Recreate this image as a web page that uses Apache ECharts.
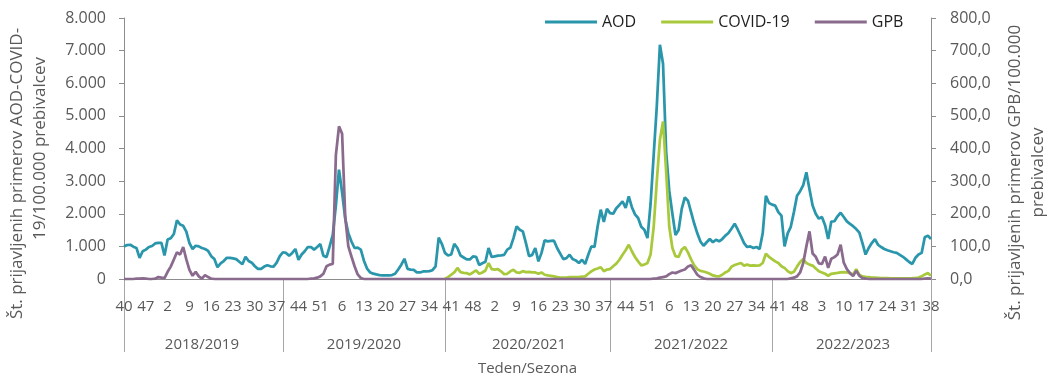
<!DOCTYPE html>
<html>
<head>
<meta charset="utf-8">
<script src="https://cdn.jsdelivr.net/npm/echarts@6/dist/echarts.min.js"></script>
<style>
  html, body { margin: 0; padding: 0; background: #ffffff; }
  #chart { width: 1047px; height: 374px; }
</style>
</head>
<body>
<div id="chart"></div>
<script>
// Seasons shown on the lower axis level
const seasons = ['2018/2019', '2019/2020', '2020/2021', '2021/2022', '2022/2023'];

// ISO weeks of each season (week 40 to week 39; 2020 has a week 53; last season ends at week 38)
function span(a, b) { const r = []; for (let w = a; w <= b; w++) r.push(w); return r; }
const seasonWeeks = [
  span(40, 52).concat(span(1, 39)),
  span(40, 52).concat(span(1, 39)),
  span(40, 53).concat(span(1, 39)),
  span(40, 52).concat(span(1, 39)),
  span(40, 52).concat(span(1, 38))
];

// AOD – weekly cases per 100.000 inhabitants (left axis)
const aod1819 = [1000,1040,1050,990,950,650,850,900,980,1010,
  1090,1110,1110,720,1210,1250,1380,1800,1670,1630,
  1450,1100,920,1020,1000,950,920,860,700,610,
  360,480,550,650,650,630,610,530,450,680,
  550,500,390,310,310,380,420,390,380,500,
  700,820];
const aod1920 = [800,710,800,920,590,750,850,980,980,900,
  980,1070,710,670,1000,1350,2250,3350,2650,1850,
  1400,1150,950,960,900,560,320,200,165,140,
  120,110,110,110,120,160,290,440,620,310,
  290,280,200,200,230,230,240,270,390,1270,
  1080,800];
const aod2021 = [720,750,1080,950,720,660,600,600,690,680,
  430,480,530,950,675,695,715,725,740,900,
  960,1255,1610,1510,1460,1100,700,740,950,540,
  800,1185,1155,1165,1175,950,780,610,640,745,
  610,570,490,590,460,745,1000,980,1610,2125,
  1750,2150,2020];
const aod2122 = [2000,2170,2270,2380,2180,2530,2200,1980,1870,1600,
  1510,1255,2300,3800,5300,7180,6600,3900,2700,2000,
  1350,1500,2150,2500,2400,2050,1700,1400,1150,1020,
  1125,1225,1125,1205,1155,1225,1330,1410,1550,1695,
  1510,1310,1100,980,1000,950,980,920,1410,2550,
  2330,2280];
const aod2223 = [2250,2050,1940,1000,1400,1600,2050,2550,2690,2880,
  3270,2750,2250,2000,1850,1900,1650,1225,1760,1770,
  1920,2030,1900,1765,1690,1620,1530,1420,1100,750,
  950,1100,1220,1050,980,920,880,850,820,800,
  740,680,600,520,460,650,750,800,1280,1330,
  1225];

// COVID-19 – weekly cases per 100.000 inhabitants (left axis), reported from week 39/2020
const covid1819 = new Array(52).fill(null);
const covid1920 = new Array(51).fill(null).concat([0]);
const covid2021 = [60,130,200,340,210,190,180,140,200,265,
  160,200,260,490,305,290,305,235,150,160,
  235,280,200,190,240,210,220,205,200,160,
  200,130,110,95,80,60,40,40,45,60,
  60,60,60,70,80,160,235,290,320,360,
  240,290,305];
const covid2122 = [390,470,590,745,880,1050,850,675,540,420,
  440,490,750,1600,3000,4270,4830,3300,1600,950,
  700,675,900,980,815,600,420,300,250,230,
  200,160,110,90,80,130,200,250,380,430,
  460,490,410,440,410,420,410,420,490,775,
  680,610];
const covid2223 = [540,490,390,340,240,180,220,380,520,610,
  490,440,410,320,240,200,160,100,160,175,
  185,200,210,200,180,140,300,130,80,65,
  55,45,40,35,30,28,25,20,20,20,
  20,20,20,22,25,30,45,80,140,180,
  100];

// GPB – weekly cases per 100.000 inhabitants (right axis)
const gpb1819 = [0,0,0,0,1,1,2,1,0,0,
  1,6,4,3,22,38,60,82,75,98,
  60,28,10,22,8,1,12,6,1,0,
  0,0,0,0,0,0,0,0,0,0,
  0,0,0,0,0,0,0,0,0,0,
  0,0];
const gpb1920 = [0,0,0,0,0,0,0,0,1,2,
  4,8,16,39,44,46,380,468,445,190,
  100,69,39,14,3,0,0,0,0,0,
  0,0,0,0,0,0,0,0,0,0,
  0,0,0,0,0,0,0,0,0,0,
  0,0];
const gpb2021 = new Array(53).fill(0);
const gpb2122 = [0,0,0,0,0,0,0,0,0,0,
  0,0,0,1,2,4,6,8,15,20,
  18,22,26,29,38,42,28,13,6,2,
  0,0,0,0,0,0,0,0,0,0,
  0,0,0,0,0,0,0,0,0,0,
  0,0];
const gpb2223 = [0,0,0,0,0,2,4,8,20,49,
  100,146,78,68,48,46,69,34,62,67,
  75,105,50,30,18,9,25,10,3,1,
  0,0,0,0,0,0,0,0,0,0,
  0,0,0,0,0,0,0,0,1,2,
  1];

// Left axis tick labels (thousands separated by a dot) and right axis (decimal comma)
const leftTicks = ['0','1.000','2.000','3.000','4.000','5.000','6.000','7.000','8.000'];
const rightTicks = ['0,0','100,0','200,0','300,0','400,0','500,0','600,0','700,0','800,0'];

// ---- build the axis categories ----
const weekLabels = [];
const seasonOf = [];
const seasonFirst = [];
const seasonLast = [];
seasonWeeks.forEach((ws, s) => {
  seasonFirst.push(weekLabels.length);
  ws.forEach(w => { weekLabels.push(String(w)); seasonOf.push(seasons[s]); });
  seasonLast.push(weekLabels.length - 1);
});
const keys = weekLabels.map((w, i) => String(i));
// divider lines at the start of the axis and after the last week of every season
const dividerIdx = [0].concat(seasonLast);
const seasonLabelIdx = seasonFirst.map((f, s) => Math.floor((f + seasonLast[s]) / 2));

const aod = [].concat(aod1819, aod1920, aod2021, aod2122, aod2223);
const covid = [].concat(covid1819, covid1920, covid2021, covid2122, covid2223);
const gpb = [].concat(gpb1819, gpb1920, gpb2021, gpb2122, gpb2223);

const FONT = "'Open Sans', 'Noto Sans', sans-serif";
const GREY_TEXT = '#595959';
const AXIS_GREY = '#8c8c8c';

// text style of the axis titles; the extra right padding moves a line towards the axis bottom
function titleLine(shift) {
  return { fontSize: 17, lineHeight: 23, color: GREY_TEXT, fontFamily: FONT, padding: [0, shift, 0, 0] };
}

const chart = echarts.init(document.getElementById('chart'), null, { renderer: 'canvas' });
chart.setOption({
  animation: false,
  backgroundColor: '#ffffff',
  textStyle: { fontFamily: FONT },
  grid: { left: 124, right: 116, top: 18, bottom: 95, containLabel: false, outerBoundsMode: 'none' },
  legend: {
    top: 9, left: 540,
    icon: 'rect', itemWidth: 52, itemHeight: 3, itemGap: 25,
    textStyle: { fontSize: 16, color: '#1f1f1f', fontFamily: FONT },
    data: ['AOD', 'COVID-19', 'GPB']
  },
  xAxis: [
    {
      type: 'category', data: keys, boundaryGap: false,
      axisLine: { show: true, lineStyle: { color: AXIS_GREY, width: 1 } },
      axisTick: { show: false },
      splitLine: { show: false },
      axisLabel: {
        interval: 6, margin: 20, fontSize: 15, color: GREY_TEXT, fontFamily: FONT,
        formatter: v => weekLabels[+v]
      }
    },
    {
      type: 'category', data: keys, boundaryGap: false, position: 'bottom',
      axisLine: { show: false },
      axisTick: {
        show: true, length: 73,
        interval: i => dividerIdx.indexOf(i) >= 0,
        lineStyle: { color: '#a6a6a6', width: 1 }
      },
      splitLine: { show: false },
      axisLabel: {
        margin: 58, fontSize: 15, color: GREY_TEXT, fontFamily: FONT,
        interval: i => seasonLabelIdx.indexOf(i) >= 0,
        formatter: v => seasonOf[+v]
      },
      name: 'Teden/Sezona', nameLocation: 'middle', nameGap: 82,
      nameTextStyle: { fontSize: 15, color: GREY_TEXT, fontFamily: FONT }
    }
  ],
  yAxis: [
    {
      type: 'value', position: 'left', min: 0, max: 8000, interval: 1000,
      name: '{a|Št. prijavljenih primerov AOD-COVID-}\n{b|19/100.000 prebivalcev}',
      nameLocation: 'middle', nameGap: 72,
      nameTextStyle: {
        fontSize: 17, color: GREY_TEXT, lineHeight: 23, fontFamily: FONT,
        rich: { a: titleLine(50), b: titleLine(0) }
      },
      axisLine: { show: true, lineStyle: { color: AXIS_GREY } },
      axisTick: { show: true, length: 5, lineStyle: { color: AXIS_GREY } },
      splitLine: { show: false },
      axisLabel: {
        margin: 18, fontSize: 16, color: GREY_TEXT, fontFamily: FONT,
        formatter: v => leftTicks[Math.round(v / 1000)]
      }
    },
    {
      type: 'value', position: 'right', min: 0, max: 800, interval: 100,
      name: '{a|Št. prijavljenih primerov GPB/100.000}\n{b|prebivalcev}',
      nameLocation: 'middle', nameGap: 73,
      nameTextStyle: {
        fontSize: 17, color: GREY_TEXT, lineHeight: 23, fontFamily: FONT,
        rich: { a: titleLine(48), b: titleLine(48) }
      },
      axisLine: { show: true, lineStyle: { color: AXIS_GREY } },
      axisTick: { show: true, length: 5, lineStyle: { color: AXIS_GREY } },
      splitLine: { show: false },
      axisLabel: {
        margin: 19, fontSize: 16, color: GREY_TEXT, fontFamily: FONT,
        formatter: v => rightTicks[Math.round(v / 100)]
      }
    }
  ],
  series: [
    {
      name: 'AOD', type: 'line', xAxisIndex: 0, yAxisIndex: 0, data: aod,
      symbol: 'none', lineStyle: { width: 2.75, color: '#2996ac' }, itemStyle: { color: '#2996ac' }
    },
    {
      name: 'COVID-19', type: 'line', xAxisIndex: 0, yAxisIndex: 0, data: covid,
      symbol: 'none', connectNulls: false,
      lineStyle: { width: 2.75, color: '#a9c93c' }, itemStyle: { color: '#a9c93c' }
    },
    {
      name: 'GPB', type: 'line', xAxisIndex: 0, yAxisIndex: 1, data: gpb,
      symbol: 'none', lineStyle: { width: 2.75, color: '#8a6b8e' }, itemStyle: { color: '#8a6b8e' }
    }
  ]
});
</script>
</body>
</html>
